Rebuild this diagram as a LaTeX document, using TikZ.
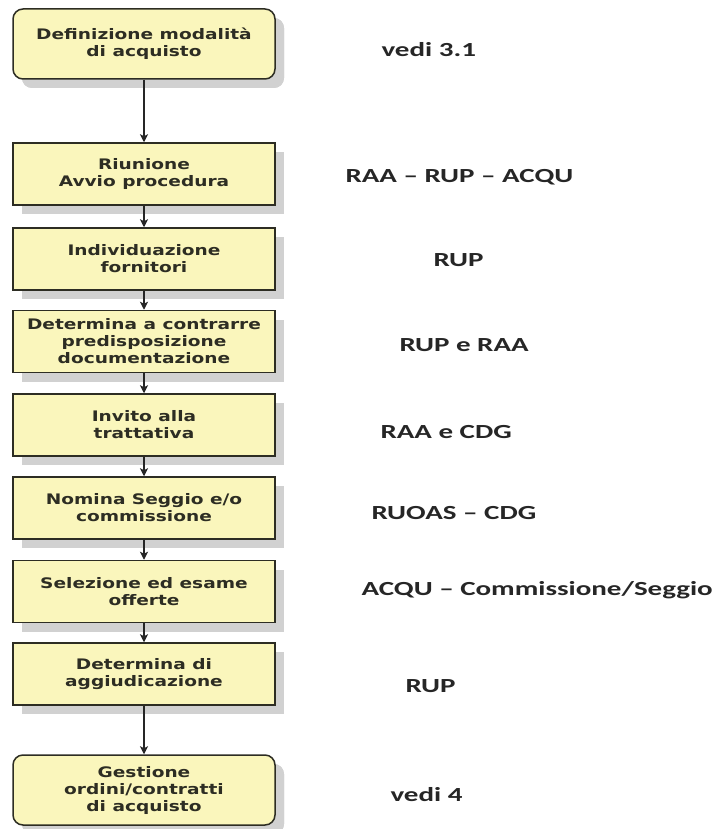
\documentclass[tikz,border=0pt]{standalone}
\usepackage{fontspec}
\newfontfamily\boxfont[FakeStretch=1.28]{DejaVu Sans}
\newfontfamily\notefont[FakeStretch=1.45]{Carlito}
\usetikzlibrary{shadows,arrows.meta}
\definecolor{boxyellow}{RGB}{250,246,188}
\definecolor{boxline}{RGB}{45,45,35}
\tikzset{
  stepbox/.style={draw=boxline, line width=1.5pt, fill=boxyellow,
    minimum width=262pt, minimum height=62pt, inner sep=0pt, align=center,
    text=boxline, font=\boxfont\bfseries\fontsize{14.5}{17}\selectfont,
    drop shadow={shadow xshift=9pt, shadow yshift=-9pt, fill=black!18, opacity=1}},
  endbox/.style={stepbox, rounded corners=10pt, minimum height=70pt},
  note/.style={anchor=west, text=black!85, font=\notefont\bfseries\fontsize{20}{22}\selectfont}
}
\begin{document}
\begin{tikzpicture}[x=1pt,y=-1pt]
    \useasboundingbox (0,0) rectangle (720,829);
        \begin{scope}
            \begin{scope}[every node/.style={stepbox}]
              \node[endbox] (def) at (144,44) {Definizione modalità\\di acquisto};
              \node (riu) at (144,174) {Riunione\\Avvio procedura};
              \node (ind) at (144,259) {Individuazione\\fornitori};
              \node (det) at (144,341.5) {Determina a contrarre\\predisposizione\\documentazione};
              \node (inv) at (144,425) {Invito alla\\trattativa};
              \node (nom) at (144,508) {Nomina Seggio e/o\\commissione};
              \node (sel) at (144,591.5) {Selezione ed esame\\offerte};
              \node (agg) at (144,674) {Determina di\\aggiudicazione};
              \node[endbox] (ges) at (144,790) {Gestione\\ordini/contratti\\di acquisto};
            \end{scope}
            \begin{scope}[every edge/.style={draw=black!85, line width=1.2pt, -{Stealth[length=8pt,width=8pt,inset=2pt]}}]
                \path (def) edge (riu)
                      (riu) edge (ind)
                      (ind) edge (det)
                      (det) edge (inv)
                      (inv) edge (nom)
                      (nom) edge (sel)
                      (sel) edge (agg)
                      (agg) edge (ges);
            \end{scope}
            % chi se ne occupa
            \node[note] (n1) at (378,50) {vedi 3.1};
            \node[note] (n2) at (342,177) {RAA – RUP – ACQU};
            \node[note] (n3) at (430,260) {RUP};
            \node[note] (n4) at (396,345) {RUP e RAA};
            \node[note] (n5) at (377,432) {RAA e CDG};
            \node[note] (n6) at (368,513) {RUOAS – CDG};
            \node[note] (n7) at (358,590) {ACQU – Commissione/Seggio};
            \node[note] (n8) at (402,686) {RUP};
            \node[note] (n9) at (387,795) {vedi 4};
        \end{scope}
    \end{tikzpicture}
\end{document}
